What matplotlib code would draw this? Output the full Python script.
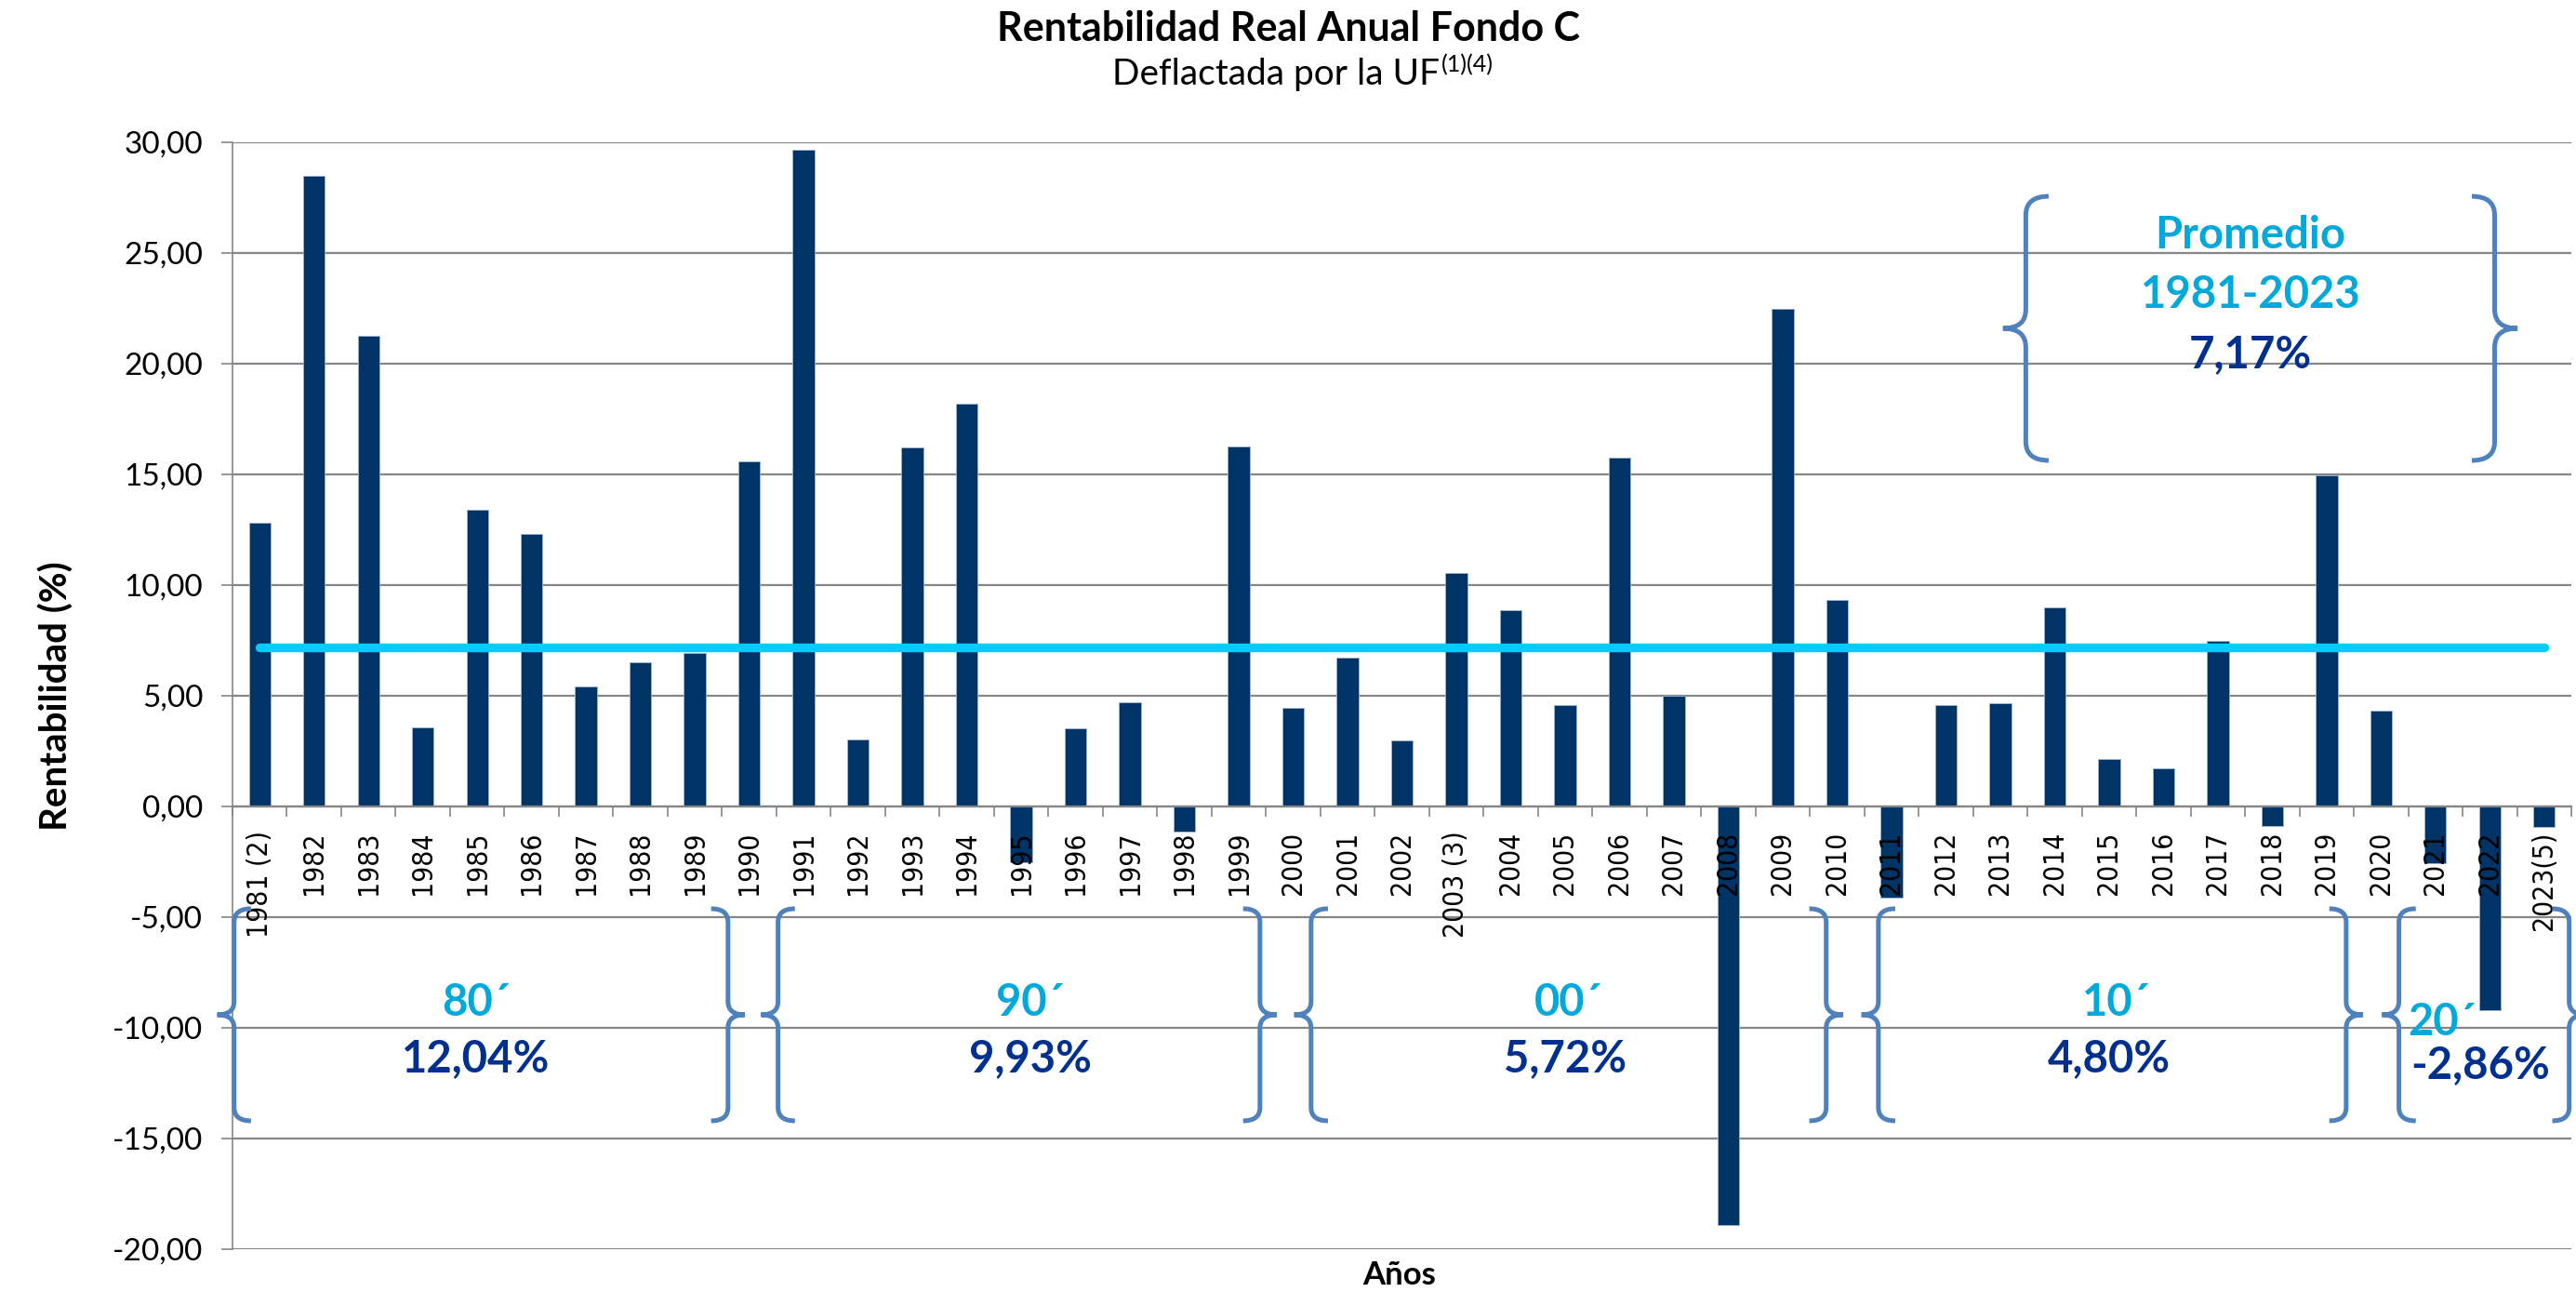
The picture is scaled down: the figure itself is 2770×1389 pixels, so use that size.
import matplotlib
matplotlib.use("Agg")
import numpy as np
import matplotlib.pyplot as plt
from matplotlib.path import Path
from matplotlib.patches import PathPatch

# data
years = ['1981 (2)', '1982', '1983', '1984', '1985', '1986', '1987', '1988', '1989',
         '1990', '1991', '1992', '1993', '1994', '1995', '1996', '1997', '1998', '1999',
         '2000', '2001', '2002', '2003 (3)', '2004', '2005', '2006', '2007', '2008', '2009',
         '2010', '2011', '2012', '2013', '2014', '2015', '2016', '2017', '2018', '2019',
         '2020', '2021', '2022', '2023(5)']
returns = [12.81, 28.50, 21.24, 3.56, 13.41, 12.30, 5.43, 6.50, 6.93,
           15.60, 29.66, 3.04, 16.20, 18.18, -2.51, 3.55, 4.69, -1.12, 16.26,
           4.44, 6.73, 2.98, 10.54, 8.86, 4.56, 15.77, 4.99, -18.92, 22.50,
           9.33, -4.10, 4.59, 4.67, 8.98, 2.15, 1.73, 7.50, -0.88, 14.97,
           4.32, -2.56, -9.19, -0.91]
promedio = 7.17
decade_names = ['80´', '90´', '00´', '10´', '20´']
decade_avgs = [12.04, 9.93, 5.72, 4.80, -2.86]

BAR = '#003366'
CYAN_LINE = '#00CCFF'
CYAN_TXT = '#00A9DA'
DARK_TXT = '#00308F'
BRACE = '#4F81BD'
GRID = '#868686'
FONT = 'Lato'

plt.rcParams['font.family'] = [FONT, 'DejaVu Sans']

W, H = 2770, 1389
fig = plt.figure(figsize=(W / 100, H / 100), dpi=100)
ax = fig.add_axes([250 / W, 46 / H, 2515 / W, 1190 / H])

x = np.arange(len(years))
ax.bar(x, returns, width=0.40, color=BAR, edgecolor='#9DB3CF', linewidth=0.6, zorder=1)
ax.plot([x[0], x[-1]], [promedio, promedio], color=CYAN_LINE, lw=6.8,
        solid_capstyle='round', zorder=3)

# spines first (moving a spine resets the ticks)
for s in ['top', 'right']:
    ax.spines[s].set_visible(False)
ax.spines['bottom'].set_position(('data', 0))
ax.spines['bottom'].set_color(GRID)
ax.spines['bottom'].set_linewidth(1.6)
ax.spines['left'].set_color(GRID)
ax.spines['left'].set_linewidth(1.2)

ax.set_xlim(-0.5, len(years) - 0.5)
ax.set_ylim(-20, 30)
yt = np.arange(-20, 31, 5)
ax.yaxis.grid(True, color=GRID, lw=1.6)
ax.yaxis.set_zorder(0.5)
ax.xaxis.set_zorder(2.5)
ax.tick_params(axis='y', direction='out', length=9, width=1.2, color=GRID, pad=14)
ax.tick_params(axis='x', which='major', length=0, pad=19)
ax.tick_params(axis='x', which='minor', direction='out', length=8, width=1.2, color=GRID)

ax.set_yticks(yt)
ax.set_yticklabels([f'{v:.2f}'.replace('.', ',') for v in yt], fontsize=24)
ax.set_xticks(x)
ax.set_xticks(np.arange(-0.5, len(years), 1), minor=True)
ax.set_xticklabels(years, rotation=90, fontsize=21.5, family='DejaVu Sans',
                   fontstretch='condensed', va='top', ha='center')

ax.set_ylabel('Rentabilidad (%)', fontsize=29, fontweight='bold', labelpad=30)
fig.text(1505 / W, 1 - 1371 / H, 'Años', ha='center', va='center',
         fontsize=25, fontweight='bold')

# titles
fig.text(0.5, 1 - 31 / H, 'Rentabilidad Real Anual Fondo C', ha='center', va='center',
         fontsize=31, fontweight='bold')
sub = fig.text(1372 / W, 1 - 80 / H, 'Deflactada por la UF', ha='center', va='center',
               fontsize=28)
r = fig.canvas.get_renderer()
bb = sub.get_window_extent(r)
fig.text(bb.x1 / W + 0.0005, 1 - 70 / H, '(1)(4)', ha='left', va='center', fontsize=18)


def brace(xl, yt_, yb, side, d, rr, lw=3.6):
    s = 1 if side == 'left' else -1
    ym = (yt_ + yb) / 2
    verts = [(xl + s * d, yt_), (xl, yt_), (xl, yt_ - rr),
             (xl, ym + rr), (xl, ym), (xl - s * d, ym),
             (xl, ym), (xl, ym - rr),
             (xl, yb + rr), (xl, yb), (xl + s * d, yb)]
    codes = [Path.MOVETO, Path.CURVE3, Path.CURVE3,
             Path.LINETO, Path.CURVE3, Path.CURVE3,
             Path.CURVE3, Path.CURVE3,
             Path.LINETO, Path.CURVE3, Path.CURVE3]
    ax.add_patch(PathPatch(Path(verts, codes), fill=False, edgecolor=BRACE, lw=lw,
                           capstyle='butt', clip_on=False, zorder=4))


# decade braces (left line, right line in category units)
brace_spans = [(-0.47, 8.61), (9.53, 18.39), (19.33, 28.80), (29.76, 38.36), (39.33, 42.46)]
for (xa, xb) in brace_spans:
    brace(xa, -4.62, -14.2, 'left', 0.31, 0.6)
    brace(xb, -4.62, -14.2, 'right', 0.31, 0.6)

name_pos = [(3.98, -8.87), (14.17, -8.87), (24.06, -8.87), (34.13, -8.87), (40.13, -9.75)]
avg_pos = [(3.98, -11.39), (14.17, -11.39), (24.0, -11.39), (34.0, -11.39), (40.83, -11.68)]
for nm, av, pn, pa in zip(decade_names, decade_avgs, name_pos, avg_pos):
    ax.text(pn[0], pn[1], nm, ha='center', va='center', fontsize=34, fontweight='bold',
            color=CYAN_TXT, zorder=5, clip_on=False)
    ax.text(pa[0], pa[1], f'{av:.2f}%'.replace('.', ','), ha='center', va='center',
            fontsize=34, fontweight='bold', color=DARK_TXT, zorder=5, clip_on=False)

# promedio box
brace(32.47, 27.56, 15.63, 'left', 0.42, 0.85)
brace(41.09, 27.56, 15.63, 'right', 0.42, 0.85)
ax.text(36.6, 25.8, 'Promedio', ha='center', va='center', fontsize=34, fontweight='bold',
        color=CYAN_TXT, zorder=5)
ax.text(36.6, 23.1, '1981-2023', ha='center', va='center', fontsize=34, fontweight='bold',
        color=CYAN_TXT, zorder=5)
ax.text(36.6, 20.4, f'{promedio:.2f}%'.replace('.', ','), ha='center', va='center',
        fontsize=34, fontweight='bold', color=DARK_TXT, zorder=5)

fig.savefig('out.png', dpi=100)
